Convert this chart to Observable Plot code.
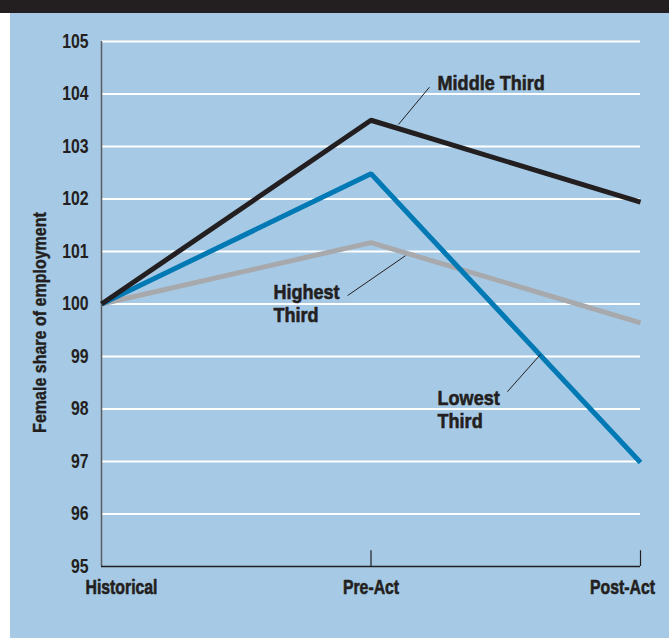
<!DOCTYPE html>
<html>
<head>
<meta charset="utf-8">
<script src="https://cdn.jsdelivr.net/npm/d3@7"></script>
<script src="https://cdn.jsdelivr.net/npm/@observablehq/plot@0.6"></script>
<style>
  body { margin: 0; background: #ffffff; }
  #wrap { position: relative; width: 669px; height: 639px; overflow: hidden; }
  #band { position: absolute; left: 0; top: 0; width: 669px; height: 13px; background: #231f20; }
  #panel { position: absolute; left: 10px; top: 13px; width: 659px; height: 625px; background: #a6cae5; }
  #chart { position: absolute; left: 0; top: 0; }
</style>
</head>
<body>
<div id="wrap">
  <div id="band"></div>
  <div id="panel"></div>
  <div id="chart"></div>
</div>
<script>
// Periods along the x axis and the female share of employment (index, historical = 100)
const periods = ["Historical", "Pre-Act", "Post-Act"];
const middleThird = [100, 103.5, 101.94];
const lowestThird = [100, 102.48, 96.98];
const highestThird = [100, 101.17, 99.64];
const yTicks = [95, 96, 97, 98, 99, 100, 101, 102, 103, 104, 105];

const seriesNames = ["Highest Third", "Lowest Third", "Middle Third"];
const seriesColors = ["#a7a9ac", "#0079b4", "#231f20"];
const seriesValues = [highestThird, lowestThird, middleThird];

// Long table for the line mark: one row per series and period
const rows = seriesNames.flatMap((name, s) =>
  seriesValues[s].map((value, i) => ({series: name, i, value}))
);

// Direct labels, one row per text line, and their leader lines (x in period index units)
const labelText = ["Middle Third", "Highest", "Third", "Lowest", "Third"];
const labelX = [1.247, 0.638, 0.638, 1.247, 1.247];
const labelY = [104.21, 100.22, 99.78, 98.21, 97.77];
const labels = labelText.map((text, k) => ({text, x: labelX[k], y: labelY[k]}));
const leaders = [
  {x1: 1.217, y1: 104.13, x2: 1.102, y2: 103.42},
  {x1: 0.913, y1: 100.16, x2: 1.128, y2: 100.92},
  {x1: 1.506, y1: 98.33, x2: 1.629, y2: 99.04}
];

const font = "'Liberation Sans', Arial, sans-serif";
const ink = "#231f20";
// heavier lettering: a thin outline in the text colour
const heavy = {fontWeight: "bold", fill: ink, stroke: ink, strokeWidth: 0.6};

const chart = Plot.plot({
  width: 669,
  height: 639,
  marginLeft: 101,
  marginRight: 29,
  marginTop: 41,
  marginBottom: 73,
  style: {background: "transparent", fontFamily: font, overflow: "visible"},
  x: {domain: [0, 2], axis: null},
  y: {domain: [95, 105], axis: null},
  color: {domain: seriesNames, range: seriesColors},
  marks: [
    // white gridlines
    Plot.ruleY(yTicks.filter((v) => v > 95), {stroke: "#ffffff", strokeWidth: 2}),
    // axis lines and period ticks
    Plot.ruleX([0], {stroke: "#5b5d60", strokeWidth: 1.5}),
    Plot.ruleY([95], {stroke: ink, strokeWidth: 1.5}),
    Plot.ruleX([1, 2], {y1: 95, y2: 95.3, stroke: ink, strokeWidth: 1.2}),
    // y tick labels
    Plot.axisY({
      ticks: yTicks,
      tickSize: 0,
      tickPadding: 13,
      label: null,
      fontSize: 20,
      ...heavy,
      className: "squeeze-axis"
    }),
    // x period labels (the end labels sit inward of their positions)
    Plot.text([periods[0]], {x: 0, y: 95, dy: 21, dx: 20, textAnchor: "middle", fontSize: 20, ...heavy, className: "squeeze-axis"}),
    Plot.text([periods[1]], {x: 1, y: 95, dy: 21, textAnchor: "middle", fontSize: 20, ...heavy, className: "squeeze-axis"}),
    Plot.text([periods[2]], {x: 2, y: 95, dy: 21, dx: -18, textAnchor: "middle", fontSize: 20, ...heavy, className: "squeeze-axis"}),
    // y axis title
    Plot.text(["Female share of employment"], {
      frameAnchor: "left",
      textAnchor: "middle",
      dx: -61,
      dy: 18.5,
      rotate: -90,
      fontSize: 18,
      ...heavy,
      strokeWidth: 0.4,
      className: "squeeze-title"
    }),
    // series lines
    Plot.line(rows, {
      x: "i",
      y: "value",
      z: "series",
      stroke: "series",
      strokeWidth: 5,
      strokeLinejoin: "miter",
      strokeLinecap: "butt"
    }),
    // leader lines and direct labels
    Plot.link(leaders, {x1: "x1", y1: "y1", x2: "x2", y2: "y2", stroke: ink, strokeWidth: 1}),
    Plot.text(labels, {
      x: "x",
      y: "y",
      text: "text",
      textAnchor: "start",
      lineAnchor: "middle",
      fontSize: 20.5,
      ...heavy,
      className: "squeeze-label"
    })
  ]
});

document.getElementById("chart").appendChild(chart);

// Condensed lettering: compress each text horizontally by a per-group factor
const squeeze = {"squeeze-axis": 0.79, "squeeze-title": 0.89, "squeeze-label": 0.88};
for (const [cls, k] of Object.entries(squeeze)) {
  chart.querySelectorAll(`g.${cls} text`).forEach((t) => {
    const w = t.getComputedTextLength();
    t.setAttribute("textLength", (w * k).toFixed(2));
    t.setAttribute("lengthAdjust", "spacingAndGlyphs");
  });
}
</script>
</body>
</html>
